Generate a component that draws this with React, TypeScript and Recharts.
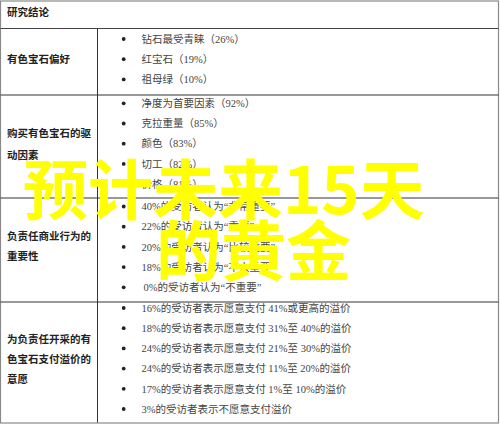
import React from 'react';
import { Surface, Layer, Text } from 'recharts';

const W = 500;
const H = 425;

const headerTitle = '研究结论';

const sectionLabels: string[][] = [
  ['有色宝石偏好'],
  ['购买有色宝石的驱', '动因素'],
  ['负责任商业行为的', '重要性'],
  ['为负责任开采的有', '色宝石支付溢价的', '意愿'],
];

const preferenceItems = ['钻石最受青睐（26%）', '红宝石（19%）', '祖母绿（10%）'];
const driverItems = ['净度为首要因素（92%）', '克拉重量（85%）', '颜色（83%）', '切工（82%）', '价格（81%）'];
const responsibilityItems = [
  '40%的受访者认为“非常重要”',
  '22%的受访者认为“重要”',
  '20%的受访者认为“比较重要”',
  '18%的受访者认为“不太重要”',
  '0%的受访者认为“不重要”',
];
const premiumItems = [
  '16%的受访者表示愿意支付 41%或更高的溢价',
  '18%的受访者表示愿意支付 31%至 40%的溢价',
  '24%的受访者表示愿意支付 21%至 30%的溢价',
  '24%的受访者表示愿意支付 11%至 20%的溢价',
  '17%的受访者表示愿意支付 1%至 10%的溢价',
  '3%的受访者表示不愿意支付溢价',
];
const overlayLines = ['预计未来15天', '的黄金'];

const sectionItems = [preferenceItems, driverItems, responsibilityItems, premiumItems];

// layout
const rowTops = [95, 198, 302];
const headerBottom = 28.5;
const dividerX = 97.5;
const itemStartY = [39, 103.3, 206.5, 308];
const itemStep = 20.2;
const labelYs = [[59], [133, 155], [236, 256], [339, 359, 379]];

const serifCJK = '"Liberation Serif", "Noto Sans CJK SC", serif';
const sansCJK = '"Noto Sans CJK SC", sans-serif';

export default function App() {
  return (
    <div style={{ position: 'absolute', left: 0, top: 0, width: W, height: H, background: '#fff' }}>
      <Surface width={W} height={H} viewBox={{ x: 0, y: 0, width: W, height: H }}>
        <Layer>
          <rect x={0} y={0} width={W} height={H} fill="#ffffff" />
          {/* outer border */}
          <rect x={0.5} y={1} width={498} height={422} fill="none" stroke="#8a8a8a" strokeWidth={1.2} />
          {/* horizontal separators */}
          <line x1={0.5} x2={498.5} y1={headerBottom} y2={headerBottom} stroke="#444" strokeWidth={1} />
          {rowTops.map((y, i) => (
            <line key={i} x1={0.5} x2={498.5} y1={y} y2={y} stroke="#333" strokeWidth={1} />
          ))}
          {/* vertical divider */}
          <line x1={dividerX} x2={dividerX} y1={headerBottom} y2={422.5} stroke="#333" strokeWidth={1} />
        </Layer>
        <Layer>
          <Text x={7} y={12.5} verticalAnchor="middle" fontSize={10.5} fontWeight="bold" fill="#222" fontFamily={sansCJK}>
            {headerTitle}
          </Text>
          {sectionLabels.map((lines, si) =>
            lines.map((t, li) => (
              <Text
                key={`${si}-${li}`}
                x={7}
                y={labelYs[si][li]}
                verticalAnchor="middle"
                fontSize={10.5}
                fontWeight="bold"
                fill="#222"
                fontFamily={sansCJK}
              >
                {t}
              </Text>
            ))
          )}
        </Layer>
        <Layer>
          {sectionItems.map((items, si) =>
            items.map((t, ii) => {
              const y = itemStartY[si] + ii * itemStep;
              return (
                <g key={`${si}-${ii}`}>
                  <circle cx={123.7} cy={y} r={1.9} fill="#222" />
                  <Text
                    x={t.startsWith('0%') ? 143.5 : 141.5}
                    y={y}
                    verticalAnchor="middle"
                    fontSize={10.5}
                    fill="#444"
                    fontFamily={serifCJK}
                  >
                    {t}
                  </Text>
                </g>
              );
            })
          )}
        </Layer>
        <Layer>
          <Text x={23} y={214} fontSize={65} fontWeight="bold" fill="#ffff00" fontFamily={sansCJK}>
            {overlayLines[0]}
          </Text>
          <Text x={156} y={275} fontSize={65} fontWeight="bold" fill="#ffff00" fontFamily={sansCJK}>
            {overlayLines[1]}
          </Text>
        </Layer>
      </Surface>
    </div>
  );
}
